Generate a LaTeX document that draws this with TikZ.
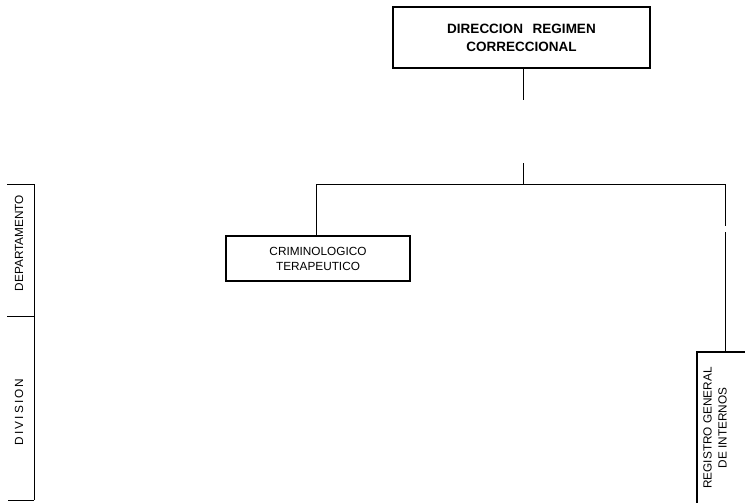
\documentclass[tikz,border=0pt]{standalone}
\usepackage{fontspec}
\setmainfont{Liberation Sans}
\begin{document}
\begin{tikzpicture}[x=1pt,y=-1pt,
  orgbox/.style={draw, line width=1.3pt, inner sep=0pt, align=center},
  conn/.style={line width=0.8pt},
  lbl/.style={font=\fontsize{11.8}{15}\selectfont, align=center, inner sep=0pt},
  toplbl/.style={font=\fontsize{13.5}{18}\selectfont\bfseries}]
\useasboundingbox (0,0) rectangle (745,503);
% boxes
\node[orgbox, toplbl, minimum width=257pt, minimum height=61pt] (dir) at (521.5,37.5) {DIRECCION\hspace{6pt} REGIMEN\\CORRECCIONAL};
\node[orgbox, lbl, minimum width=184pt, minimum height=45pt] (crim) at (318,258.5) {CRIMINOLOGICO\\TERAPEUTICO};
\node[orgbox, minimum width=52pt, minimum height=156pt] (reg) at (723,430) {};
\node[lbl, rotate=90] (regtxt) at (715,428) {REGISTRO GENERAL\\DE INTERNOS};
% connectors
\coordinate (gapA) at (523,100);
\coordinate (gapB) at (523,163);
\coordinate (bus) at (523,184);
\coordinate (rbr) at (725,184);
\coordinate (gapC) at (725,226);
\coordinate (gapD) at (725,232);
\draw[conn] (dir.south -| bus) -- (gapA);
\draw[conn] (gapB) -- (bus);
\draw[conn] (crim.north -| 316,0) -- (316,184) -- (rbr) -- (gapC);
\draw[conn] (gapD) -- (reg.north -| rbr);
% level scale
\coordinate (s1) at (34,184);
\coordinate (s2) at (34,316);
\coordinate (s3) at (34,500);
\draw[conn] (s1) -- (s3);
\draw[conn] (s1) -- ++(-27,0);
\draw[conn] (s2) -- ++(-27,0);
\draw[conn] (s3) -- ++(-26,0);
\node[lbl, rotate=90] (dep) at (19,243) {DEPARTAMENTO};
\node[lbl, rotate=90, font=\fontsize{11.8}{15}\selectfont\addfontfeature{LetterSpace=18}] (div) at (19,412) {DIVISION};
\end{tikzpicture}
\end{document}
